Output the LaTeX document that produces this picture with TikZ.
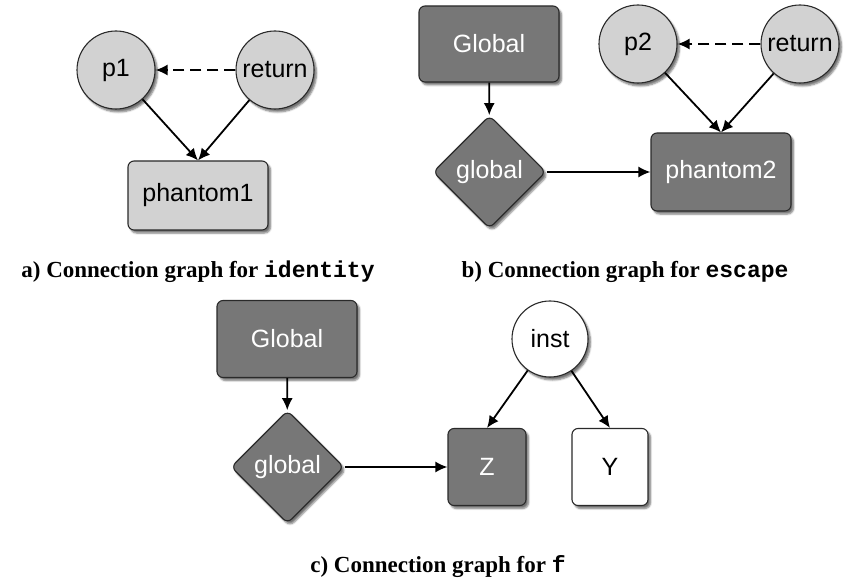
\documentclass[tikz,border=0pt]{standalone}
\usepackage{fontspec}
\setmainfont{Liberation Serif}
\setsansfont{Liberation Sans}
\setmonofont{Liberation Mono}
\usetikzlibrary{shapes.geometric,shadows.blur,arrows.meta}

\definecolor{lightfill}{HTML}{D2D2D2}
\definecolor{darkfill}{HTML}{777777}
\definecolor{edgeline}{HTML}{2A2A2A}

\tikzset{
  base/.style={draw=edgeline, line width=1.1pt,
    font=\sffamily\fontsize{25}{30}\selectfont, inner sep=0pt,
    blur shadow={shadow xshift=2.5pt, shadow yshift=-3pt,
      shadow blur steps=5, shadow opacity=55}},
  lightcirc/.style={base, circle, fill=lightfill, minimum size=78pt},
  whitecirc/.style={base, circle, fill=white, minimum size=76pt},
  lightbox/.style={base, rectangle, rounded corners=6pt, fill=lightfill},
  darkbox/.style={base, rectangle, rounded corners=6pt, fill=darkfill, text=white},
  whitebox/.style={base, rectangle, rounded corners=6pt, fill=white},
  darkdiamond/.style={base, diamond, rounded corners=6pt, fill=darkfill,
    text=white, minimum size=113pt},
  edge/.style={line width=1.8pt, -{Latex[length=12pt,width=11pt]}},
  dashedge/.style={edge, dash pattern=on 11pt off 6pt},
  caption/.style={font=\fontsize{23}{28}\selectfont\bfseries, inner sep=0pt, anchor=base}
}

\begin{document}
\begin{tikzpicture}[x=1pt, y=-1pt]
  \useasboundingbox (0,0) rectangle (844,580);

  % graph for identity
  \node[lightcirc] (p1) at (116,70) {p1};
  \node[lightcirc] (ret1) at (275,70) {return};
  \node[lightbox, minimum width=140pt, minimum height=69pt] (ph1) at (198,195.5) {phantom1};
  \draw[dashedge] (ret1) -- (p1);
  \draw[edge] (p1) -- (ph1.north);
  \draw[edge] (ret1) -- (ph1.north);
  \node[caption] (capa) at (198,278) {a) Connection graph for \texttt{identity}};

  % graph for escape
  \node[darkbox, minimum width=140pt, minimum height=76pt] (glb) at (489,44) {Global};
  \node[darkdiamond] (gdb) at (489.5,172) {global};
  \node[lightcirc] (p2) at (638,44) {p2};
  \node[lightcirc] (ret2) at (800,44) {return};
  \node[darkbox, minimum width=140pt, minimum height=78pt] (ph2) at (721,172) {phantom2};
  \draw[edge] (glb) -- (gdb);
  \draw[edge] (gdb) -- (ph2);
  \draw[dashedge] (ret2) -- (p2);
  \draw[edge] (p2) -- (ph2.north);
  \draw[edge] (ret2) -- (ph2.north);
  \node[caption] (capb) at (625,278) {b) Connection graph for \texttt{escape}};

  % graph for f
  \node[darkbox, minimum width=140pt, minimum height=77pt] (glc) at (287,339) {Global};
  \node[darkdiamond] (gdc) at (287.5,467) {global};
  \node[darkbox, minimum width=78pt, minimum height=77pt] (z) at (487,467) {Z};
  \node[whitebox, minimum width=76pt, minimum height=77pt] (y) at (610,467) {Y};
  \node[whitecirc] (inst) at (550,339) {inst};
  \draw[edge] (glc) -- (gdc);
  \draw[edge] (gdc) -- (z);
  \draw[edge] (inst) -- (z.north);
  \draw[edge] (inst) -- (y.north);
  \node[caption] (capc) at (438,572) {c) Connection graph for \texttt{f}};
\end{tikzpicture}
\end{document}
